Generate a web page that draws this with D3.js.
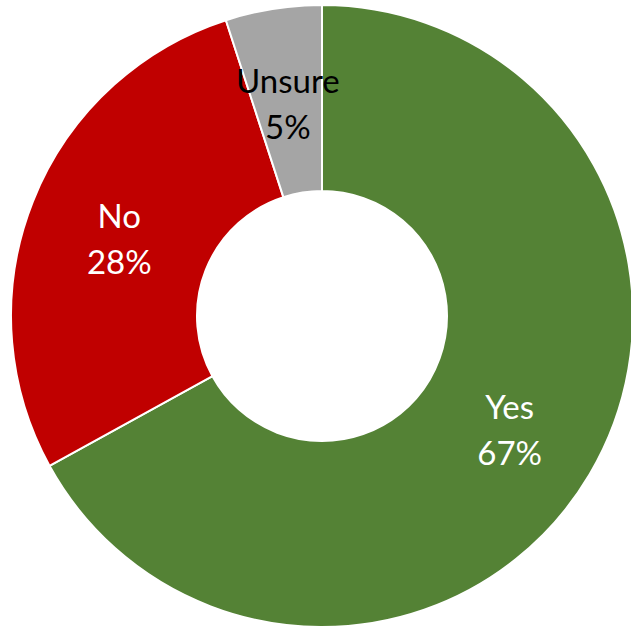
<!DOCTYPE html>
<html>
<head>
<meta charset="utf-8">
<script src="https://cdn.jsdelivr.net/npm/d3@7"></script>
<style>
  html, body { margin: 0; padding: 0; background: #fff; }
  svg { display: block; }
</style>
</head>
<body>
<script>
// Survey answers and their shares (percent)
const categories = ["Yes", "No", "Unsure"];
const values = [67, 28, 5];
const colors = ["#548235", "#C00000", "#A5A5A5"];
const labelColors = ["#FFFFFF", "#FFFFFF", "#000000"];

const width = 631, height = 628;
const cx = 322, cy = 316;
const outerR = 311, innerR = 125;

const svg = d3.select("body").append("svg")
  .attr("width", width)
  .attr("height", height);

const g = svg.append("g").attr("transform", `translate(${cx},${cy})`);

const pie = d3.pie().sort(null).value(d => d.value);
const arc = d3.arc().innerRadius(innerR).outerRadius(outerR);

const data = categories.map((c, i) => ({ name: c, value: values[i], i }));
const arcs = pie(data);

g.selectAll("path.slice")
  .data(arcs)
  .join("path")
  .attr("class", "slice")
  .attr("d", arc)
  .attr("fill", d => colors[d.data.i])
  .attr("stroke", "#fff")
  .attr("stroke-width", 2)
  .attr("stroke-linejoin", "round");

const total = d3.sum(values);
const labels = g.selectAll("text.label")
  .data(arcs)
  .join("text")
  .attr("class", "label")
  .attr("transform", d => `translate(${arc.centroid(d)})`)
  .attr("text-anchor", "middle")
  .attr("fill", d => labelColors[d.data.i])
  .style("font-family", "Lato, 'Open Sans', sans-serif")
  .style("font-size", "33px");

// Category name on the first line, share on the second
labels.append("tspan")
  .attr("x", 0)
  .attr("y", -8)
  .text(d => d.data.name);

labels.append("tspan")
  .attr("x", 0)
  .attr("y", 38)
  .text(d => Math.round(d.data.value / total * 100) + "%");
</script>
</body>
</html>
